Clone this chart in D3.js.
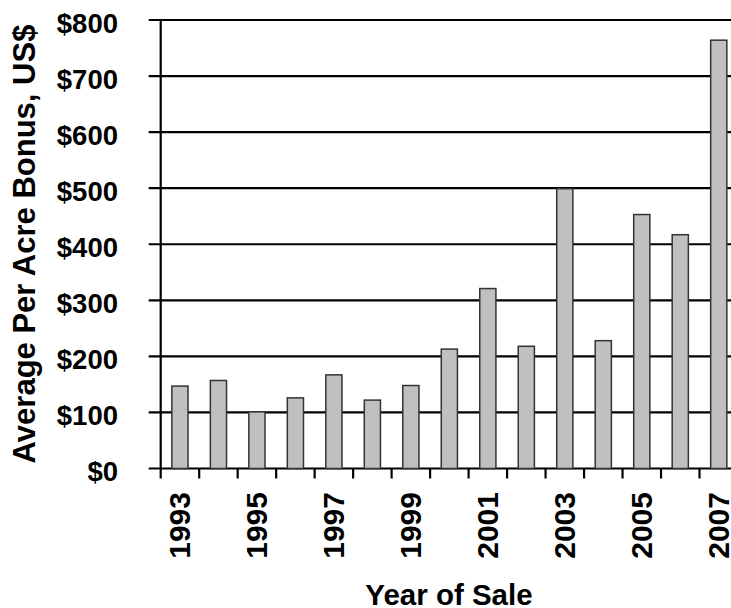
<!DOCTYPE html>
<html>
<head>
<meta charset="utf-8">
<script src="https://cdn.jsdelivr.net/npm/d3@7"></script>
<style>
  html, body { margin: 0; padding: 0; background: #fff; }
  svg { display: block; }
  text { font-family: "Liberation Sans", Arial, sans-serif; font-weight: bold; fill: #000; }
</style>
</head>
<body>
<svg id="chart" width="731" height="608"></svg>
<script>
const years = ["1993","1994","1995","1996","1997","1998","1999","2000","2001","2002","2003","2004","2005","2006","2007"];
const bonus = [147, 157, 101, 126, 167, 122, 148, 213, 321, 218, 499, 228, 453, 417, 764];
const yTicks = [0, 100, 200, 300, 400, 500, 600, 700, 800];
const xLabelYears = ["1993","1995","1997","1999","2001","2003","2005","2007"];
const yTitle = "Average Per Acre Bonus, US$";
const xTitle = "Year of Sale";

const svg = d3.select("#chart");
const pLeft = 160.7, pRight = 738, pTop = 20, pBottom = 468.5;

const x = d3.scaleBand().domain(years).range([pLeft, pRight]).paddingInner(0.58).paddingOuter(0.29);
const y = d3.scaleLinear().domain([0, 800]).range([pBottom, pTop]);
const step = x.step();

// gridlines
svg.append("g").selectAll("line").data(yTicks).join("line")
  .attr("x1", pLeft - 12).attr("x2", 731)
  .attr("y1", d => y(d)).attr("y2", d => y(d))
  .attr("stroke", "#000").attr("stroke-width", 2.2);

// y tick labels
svg.append("g").selectAll("text").data(yTicks).join("text")
  .attr("x", 118).attr("y", d => y(d) + 12.5)
  .attr("text-anchor", "end")
  .attr("font-size", 27.5)
  .text(d => "$" + d);

// y axis line
svg.append("line").attr("x1", pLeft).attr("x2", pLeft).attr("y1", pTop - 1).attr("y2", pBottom + 10)
  .attr("stroke", "#000").attr("stroke-width", 2.2);

// x ticks at category boundaries
const bounds = d3.range(years.length + 1).map(i => pLeft + i * step);
svg.append("g").selectAll("line").data(bounds.slice(1)).join("line")
  .attr("x1", d => d).attr("x2", d => d).attr("y1", pBottom).attr("y2", pBottom + 10)
  .attr("stroke", "#000").attr("stroke-width", 2.2);

// bars
svg.append("g").selectAll("rect").data(years).join("rect")
  .attr("x", d => x(d)).attr("width", x.bandwidth())
  .attr("y", (d, i) => y(bonus[i])).attr("height", (d, i) => y(0) - y(bonus[i]))
  .attr("fill", "#c0c0c0").attr("stroke", "#333").attr("stroke-width", 1.5);

// x tick labels
svg.append("g").selectAll("text").data(xLabelYears).join("text")
  .attr("transform", d => `translate(${x(d) + x.bandwidth() / 2 + 10.5},${pBottom + 23.5}) rotate(-90)`)
  .attr("text-anchor", "end")
  .attr("font-size", 30)
  .text(d => d);

// axis titles
svg.append("text")
  .attr("transform", `translate(35,244) rotate(-90)`)
  .attr("text-anchor", "middle")
  .attr("font-size", 31)
  .text(yTitle);

svg.append("text")
  .attr("x", 449).attr("y", 605)
  .attr("text-anchor", "middle")
  .attr("font-size", 29.5)
  .text(xTitle);
</script>
</body>
</html>
